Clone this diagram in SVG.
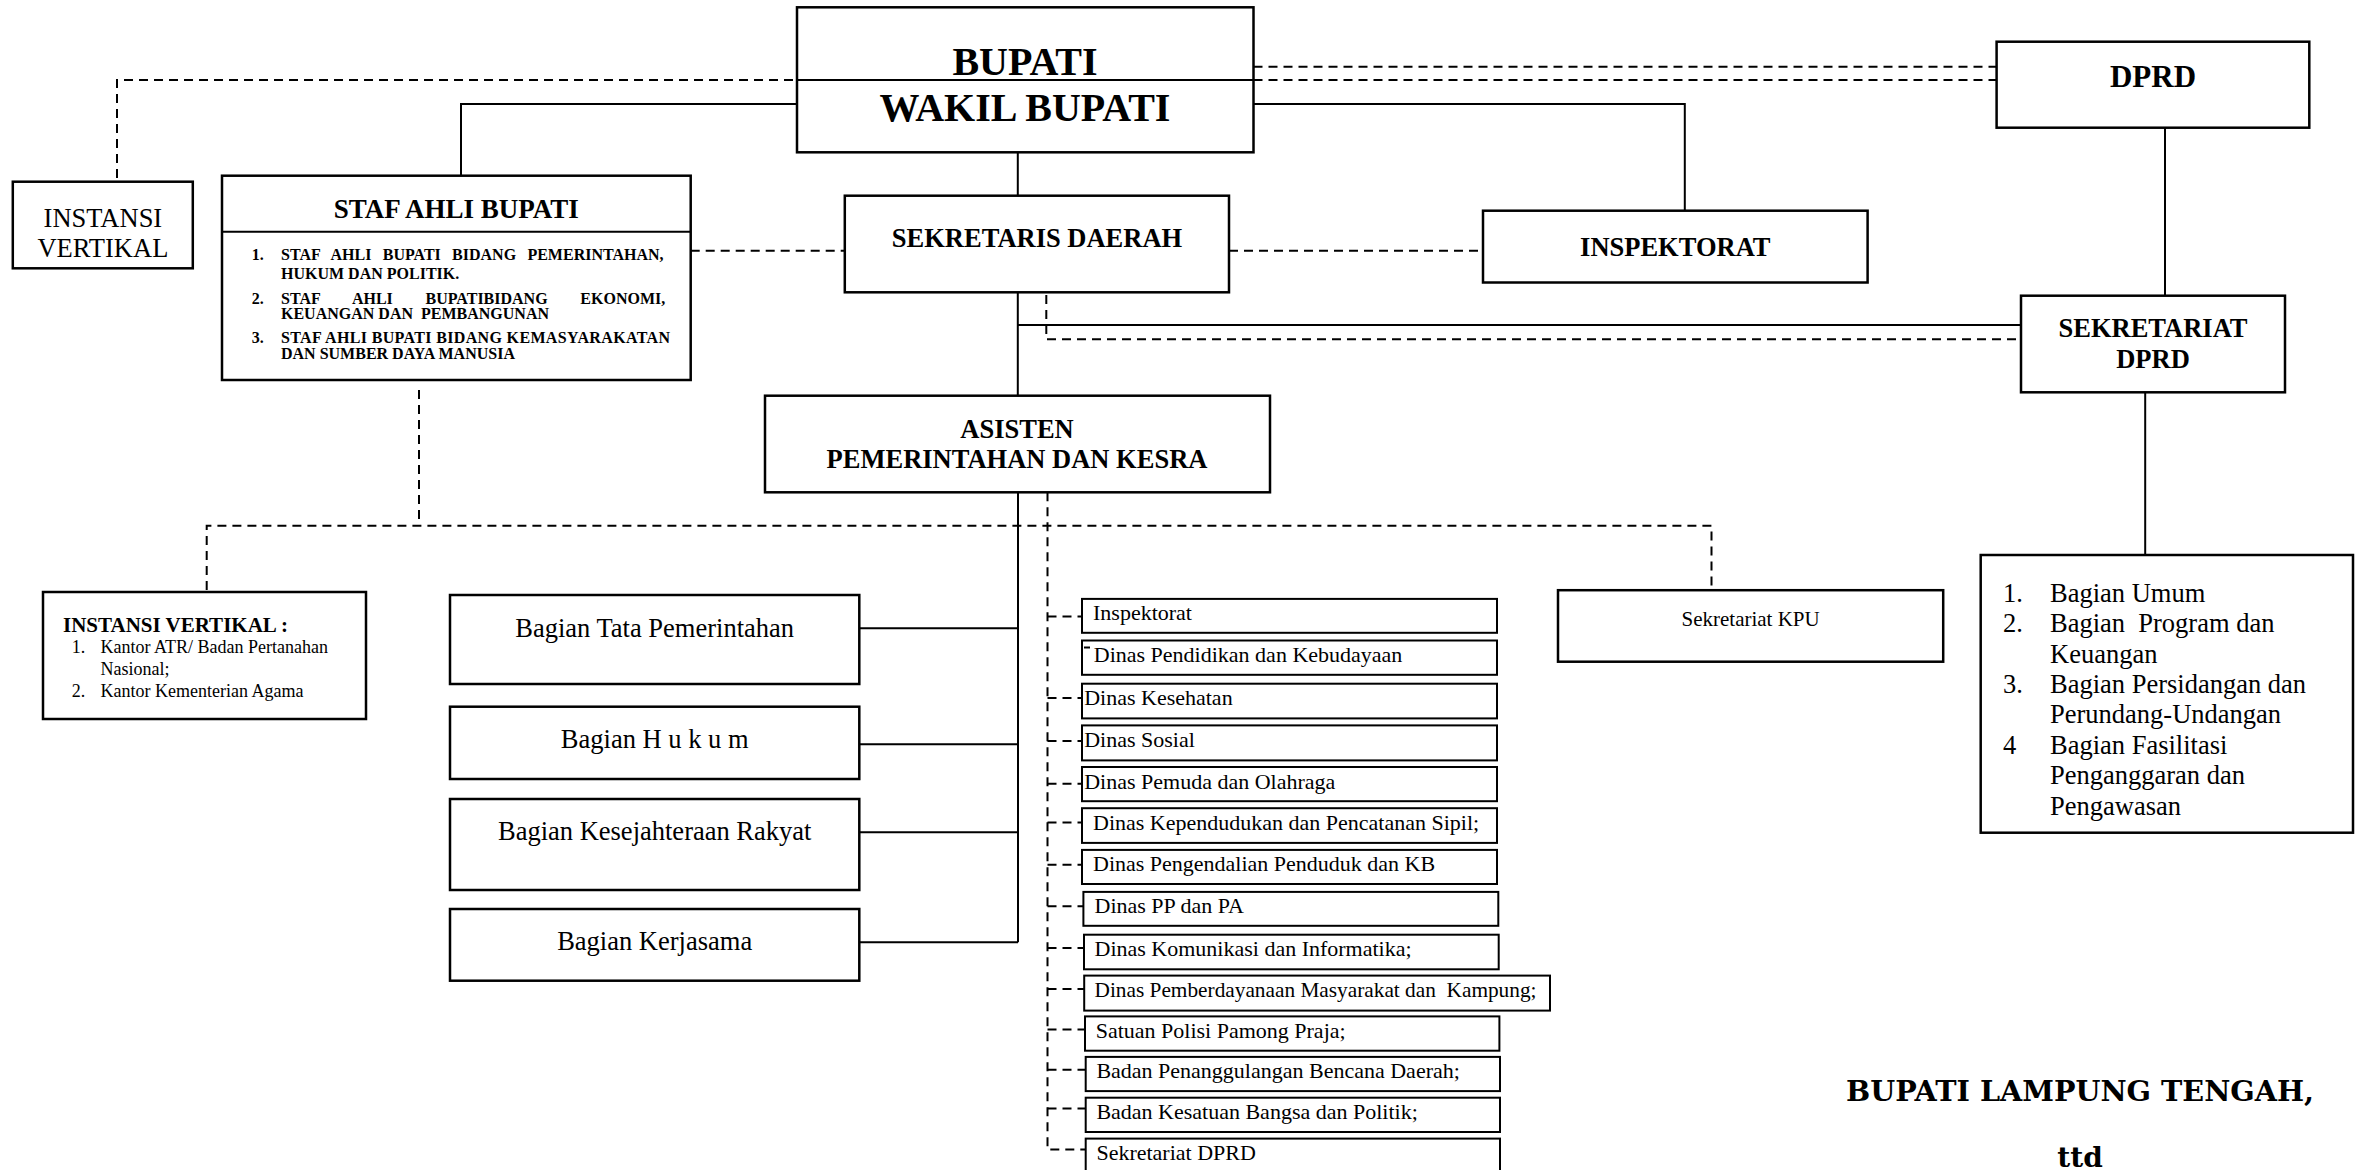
<svg xmlns="http://www.w3.org/2000/svg" width="2372" height="1170" viewBox="0 0 2372 1170">
<style>
.box{fill:#fff;stroke:#000;stroke-width:2.5}
.sbox{fill:#fff;stroke:#000;stroke-width:2}
.ln{fill:none;stroke:#000;stroke-width:2}
.dl{fill:none;stroke:#000;stroke-width:2;stroke-dasharray:9 6}
text{font-family:"Liberation Serif","Times New Roman",serif;fill:#000}
.b{font-weight:bold}
.c{text-anchor:middle}
.h40{font-size:40px}
.h27{font-size:26.5px}
.r26{font-size:26.5px}
.s16{font-size:16px}
.s22{font-size:22px}
.s18{font-size:18px}
.pre{white-space:pre}
.ft{font-family:"DejaVu Serif",serif;font-weight:bold;font-size:28px}
</style>
<rect width="2372" height="1170" fill="#fff"/>
<g id="connectors">
  <path class="dl" d="M117,178 V80 H797"/>
  <path class="dl" d="M1253.5,80 H1996.6"/>
  <path class="dl" d="M1253.5,66.7 H1996.6"/>
  <path class="ln" d="M461,176 V104 H797"/>
  <path class="ln" d="M1253.5,104 H1684.8 V210.7"/>
  <path class="ln" d="M1017.8,152.3 V195.7"/>
  <path class="dl" d="M690.7,250.7 H844.8"/>
  <path class="dl" d="M1229,250.7 H1483"/>
  <path class="ln" d="M2165,127.7 V295.7"/>
  <path class="ln" d="M1017.8,292.3 V396"/>
  <path class="ln" d="M1017.8,325 H2021"/>
  <path class="dl" d="M1046.3,295 V339.3 H2021"/>
  <path class="dl" d="M419,390 V525.7"/>
  <path class="dl" d="M206.7,590 V525.7 H1711.5 V590"/>
  <path class="ln" d="M1018,492.3 V942.3"/>
  <path class="ln" d="M859.3,628.3 H1018 M859.3,744.3 H1018 M859.3,832.3 H1018 M859.3,942.3 H1018"/>
  <path class="dl" d="M1047.5,492.3 V1149.5 H1086"/>
  <path class="dl" d="M1047.5,616.4 H1082 M1047.5,698 H1082 M1047.5,741 H1082 M1047.5,783.7 H1082 M1047.5,822.6 H1082 M1047.5,864.7 H1082 M1047.5,906.3 H1083.4 M1047.5,948 H1084 M1047.5,989 H1084.2 M1047.5,1029.6 H1085 M1047.5,1069.7 H1085.7 M1047.5,1108.6 H1085.7"/>
  <path class="ln" d="M2145.2,392.3 V555"/>
</g>
<g id="bupati">
  <rect class="box" x="797" y="7.3" width="456.5" height="145"/>
  <line class="ln" x1="797" y1="80" x2="1253.5" y2="80"/>
  <text class="b c h40" x="1025" y="75">BUPATI</text>
  <text class="b c h40" x="1025" y="121">WAKIL BUPATI</text>
</g>
<g id="instansi-vertikal-top">
  <rect class="box" x="12.8" y="181.7" width="180" height="86.6"/>
  <text class="c r26" x="102.9" y="226.7">INSTANSI</text>
  <text class="c r26" x="102.9" y="256.7">VERTIKAL</text>
</g>
<g id="staf-ahli">
  <rect class="box" x="222" y="175.7" width="468.7" height="204.3"/>
  <line class="ln" x1="222" y1="231.7" x2="690.7" y2="231.7"/>
  <text class="b c" style="font-size:27px" x="456.3" y="218">STAF AHLI BUPATI</text>
  <text class="b s16" x="251.7" y="260">1.</text>
  <text class="b s16" x="281" y="260" style="word-spacing:7.3px">STAF AHLI BUPATI BIDANG PEMERINTAHAN,</text>
  <text class="b s16" x="281" y="279.3">HUKUM DAN POLITIK.</text>
  <text class="b s16" x="251.7" y="304">2.</text>
  <text class="b s16" x="281" y="304" style="word-spacing:28.7px">STAF AHLI BUPATIBIDANG EKONOMI,</text>
  <text class="b s16 pre" x="281" y="319.3">KEUANGAN DAN  PEMBANGUNAN</text>
  <text class="b s16" x="251.7" y="342.7">3.</text>
  <text class="b s16" x="281" y="342.7" textLength="389" lengthAdjust="spacing">STAF AHLI BUPATI BIDANG KEMASYARAKATAN</text>
  <text class="b s16" x="281" y="359.3">DAN SUMBER DAYA MANUSIA</text>
</g>
<g id="sekretaris-daerah">
  <rect class="box" x="844.8" y="195.7" width="384.2" height="96.6"/>
  <text class="b c h27" x="1037" y="246.7">SEKRETARIS DAERAH</text>
</g>
<g id="inspektorat">
  <rect class="box" x="1483" y="210.7" width="384.6" height="71.8"/>
  <text class="b c h27" x="1675.3" y="256">INSPEKTORAT</text>
</g>
<g id="dprd">
  <rect class="box" x="1996.6" y="41.7" width="312.7" height="86"/>
  <text class="b c" style="font-size:31px" x="2153" y="87">DPRD</text>
</g>
<g id="sekretariat-dprd">
  <rect class="box" x="2021" y="295.7" width="264" height="96.6"/>
  <text class="b c h27" x="2153" y="337.3">SEKRETARIAT</text>
  <text class="b c h27" x="2153" y="368.3">DPRD</text>
</g>
<g id="asisten">
  <rect class="box" x="765" y="395.7" width="505" height="96.6"/>
  <text class="b c h27" x="1017" y="438.3">ASISTEN</text>
  <text class="b c h27" x="1017" y="468.3">PEMERINTAHAN DAN KESRA</text>
</g>
<g id="instansi-vertikal-list">
  <rect class="box" x="43" y="592" width="323" height="127"/>
  <text class="b" style="font-size:21px" x="63" y="631.7">INSTANSI VERTIKAL :</text>
  <text class="s18" x="71.8" y="653.3">1.</text>
  <text class="s18" x="100.5" y="653.3">Kantor ATR/ Badan Pertanahan</text>
  <text class="s18" x="100.5" y="675">Nasional;</text>
  <text class="s18" x="71.8" y="697.3">2.</text>
  <text class="s18" x="100.5" y="697.3">Kantor Kementerian Agama</text>
</g>
<g id="bagian-tata-pemerintahan">
  <rect class="box" x="450" y="595" width="409.3" height="89"/>
  <text class="c r26" x="654.7" y="636.7">Bagian Tata Pemerintahan</text>
</g>
<g id="bagian-hukum">
  <rect class="box" x="450" y="706.7" width="409.3" height="72.3"/>
  <text class="c r26" x="654.7" y="748.3">Bagian H u k u m</text>
</g>
<g id="bagian-kesra">
  <rect class="box" x="450" y="799" width="409.3" height="91"/>
  <text class="c r26" x="654.7" y="840">Bagian Kesejahteraan Rakyat</text>
</g>
<g id="bagian-kerjasama">
  <rect class="box" x="450" y="909" width="409.3" height="71.7"/>
  <text class="c r26" x="654.7" y="950">Bagian Kerjasama</text>
</g>
<g id="sekretariat-kpu">
  <rect class="box" x="1558" y="590.2" width="385.2" height="71.5"/>
  <text class="c" style="font-size:21px" x="1750.6" y="626.4">Sekretariat KPU</text>
</g>
<g id="bagian-sekretariat-dprd">
  <rect class="box" x="1980.7" y="555" width="372.3" height="277.7"/>
  <text class="r26" x="2003" y="601.7">1.</text>
  <text class="r26" x="2050" y="601.7">Bagian Umum</text>
  <text class="r26" x="2003" y="632">2.</text>
  <text class="r26 pre" x="2050" y="632">Bagian  Program dan</text>
  <text class="r26" x="2050" y="662.5">Keuangan</text>
  <text class="r26" x="2003" y="693">3.</text>
  <text class="r26" x="2050" y="693">Bagian Persidangan dan</text>
  <text class="r26" x="2050" y="723.4">Perundang-Undangan</text>
  <text class="r26" x="2003" y="753.8">4</text>
  <text class="r26" x="2050" y="753.8">Bagian Fasilitasi</text>
  <text class="r26" x="2050" y="784.2">Penganggaran dan</text>
  <text class="r26" x="2050" y="814.5">Pengawasan</text>
</g>
<g id="unit-inspektorat">
  <rect class="sbox" x="1082" y="598.9" width="415" height="33.9"/>
  <text class="s22" x="1093" y="620.3">Inspektorat</text>
</g>
<g id="unit-pendidikan">
  <rect class="sbox" x="1082" y="640.5" width="415" height="34.3"/>
  <line class="ln" x1="1084" y1="647.5" x2="1090" y2="647.5"/>
  <text class="s22" x="1093.8" y="662">Dinas Pendidikan dan Kebudayaan</text>
</g>
<g id="unit-kesehatan">
  <rect class="sbox" x="1082" y="683.7" width="415" height="34.7"/>
  <text class="s22" x="1084.2" y="705">Dinas Kesehatan</text>
</g>
<g id="unit-sosial">
  <rect class="sbox" x="1082" y="725.4" width="415" height="35"/>
  <text class="s22" x="1084.2" y="747">Dinas Sosial</text>
</g>
<g id="unit-pemuda">
  <rect class="sbox" x="1082" y="767" width="415" height="34.2"/>
  <text class="s22" x="1084.2" y="788.5">Dinas Pemuda dan Olahraga</text>
</g>
<g id="unit-kependudukan">
  <rect class="sbox" x="1082" y="808.2" width="415" height="34.7"/>
  <text class="s22" x="1093" y="829.5">Dinas Kependudukan dan Pencatanan Sipil;</text>
</g>
<g id="unit-pengendalian">
  <rect class="sbox" x="1082" y="849.9" width="415" height="34.1"/>
  <text class="s22" x="1093" y="871">Dinas Pengendalian Penduduk dan KB</text>
</g>
<g id="unit-pppa">
  <rect class="sbox" x="1083.4" y="891.9" width="414.9" height="33.9"/>
  <text class="s22" x="1094.5" y="913">Dinas PP dan PA</text>
</g>
<g id="unit-kominfo">
  <rect class="sbox" x="1084" y="934.7" width="414.7" height="34.6"/>
  <text class="s22" x="1094.5" y="956">Dinas Komunikasi dan Informatika;</text>
</g>
<g id="unit-pemberdayaan">
  <rect class="sbox" x="1084.2" y="975.6" width="465.8" height="35"/>
  <text class="s22 pre" x="1094.5" y="997" textLength="442" lengthAdjust="spacingAndGlyphs">Dinas Pemberdayanaan Masyarakat dan  Kampung;</text>
</g>
<g id="unit-satpolpp">
  <rect class="sbox" x="1085" y="1016.4" width="414.4" height="34.3"/>
  <text class="s22" x="1095.7" y="1037.5">Satuan Polisi Pamong Praja;</text>
</g>
<g id="unit-bpbd">
  <rect class="sbox" x="1085.7" y="1056.9" width="414.3" height="34.2"/>
  <text class="s22" x="1096.4" y="1078">Badan Penanggulangan Bencana Daerah;</text>
</g>
<g id="unit-kesbangpol">
  <rect class="sbox" x="1085.7" y="1097.7" width="414.3" height="34.3"/>
  <text class="s22" x="1096.4" y="1119">Badan Kesatuan Bangsa dan Politik;</text>
</g>
<g id="unit-sekretariat-dprd">
  <rect class="sbox" x="1085.7" y="1138.6" width="414.3" height="40"/>
  <text class="s22" x="1096.4" y="1160">Sekretariat DPRD</text>
</g>
<g id="signature">
  <text class="ft" x="1846" y="1100.5" textLength="468" lengthAdjust="spacingAndGlyphs">BUPATI LAMPUNG TENGAH,</text>
  <text class="ft c" x="2080" y="1167">ttd</text>
</g>
</svg>
